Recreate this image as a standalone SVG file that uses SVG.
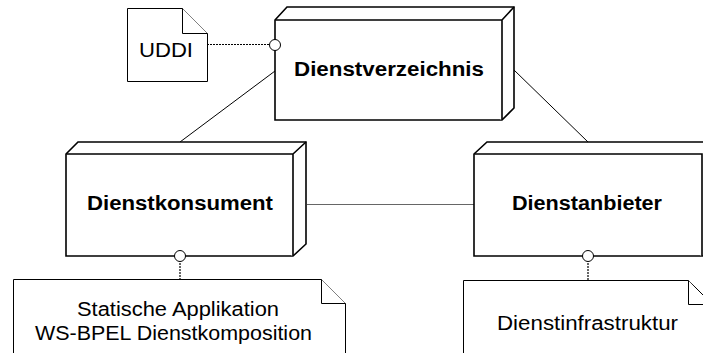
<svg xmlns="http://www.w3.org/2000/svg" width="703" height="353" viewBox="0 0 703 353">
<style>
.box{fill:#fff;stroke:#000;stroke-width:1.6;stroke-linejoin:miter}
.doc{fill:#fff;stroke:#000;stroke-width:1}
.lbl{font-family:"Liberation Sans",Arial,sans-serif;font-size:20px;font-weight:bold;text-anchor:middle;fill:#000}
.dtx{font-family:"Liberation Sans",Arial,sans-serif;font-size:20px;text-anchor:middle;fill:#000}
.ln{stroke:#000;stroke-width:1;fill:none}
.dash{stroke:#000;stroke-width:1.2;stroke-dasharray:2,1;fill:none}
.port{fill:#fff;stroke:#000;stroke-width:1}
</style>
<rect width="703" height="353" fill="#fff"/>
<g id="connectors">
<line class="ln" x1="275" y1="71" x2="180" y2="142"/>
<line class="ln" x1="514" y1="70" x2="588" y2="142"/>
<line x1="307" y1="204.5" x2="474" y2="204.5" stroke="#666" stroke-width="1.2"/>
<line class="dash" x1="207" y1="44.5" x2="270" y2="44.5"/>
<line class="dash" x1="180" y1="260" x2="180" y2="280"/>
<line class="dash" x1="588" y1="260" x2="588" y2="281"/>
</g>
<g id="uddi">
<path class="doc" d="M127.5,8.5 H182.5 L207.5,33.5 V81.5 H127.5 Z"/>
<path class="doc" d="M182.5,8.5 V33.5 H207.5"/>
<text class="dtx" x="166" y="57" textLength="54" lengthAdjust="spacingAndGlyphs">UDDI</text>
</g>
<g id="dienstverzeichnis">
<path class="box" d="M275,20 L287,7 H514 V108 L502,120 H275 Z"/>
<path class="box" d="M275,20 H502 V120 M502,20 L514,7"/>
<circle class="port" cx="275" cy="45" r="5.5"/>
<text class="lbl" x="389" y="76" textLength="190" lengthAdjust="spacingAndGlyphs">Dienstverzeichnis</text>
</g>
<g id="dienstkonsument">
<path class="box" d="M66,154 L78,142 H306 V244 L293,256 H66 Z"/>
<path class="box" d="M66,154 H293 V256 M293,154 L306,142"/>
<circle class="port" cx="180" cy="256" r="5.5"/>
<text class="lbl" x="180" y="210" textLength="186" lengthAdjust="spacingAndGlyphs">Dienstkonsument</text>
</g>
<g id="dienstanbieter">
<path class="box" d="M474,154 L487,142 H706 V256 H474 Z"/>
<path class="box" d="M474,154 H702 V256"/>
<circle class="port" cx="588" cy="256" r="5.5"/>
<text class="lbl" x="587" y="210" textLength="150" lengthAdjust="spacingAndGlyphs">Dienstanbieter</text>
</g>
<g id="statische">
<path class="doc" d="M13.5,360 V279.5 H321.5 L345.5,303.5 V360"/>
<path class="doc" d="M321.5,279.5 V303.5 H345.5"/>
<text class="dtx" x="178" y="316" textLength="202" lengthAdjust="spacingAndGlyphs">Statische Applikation</text>
<text class="dtx" x="173.5" y="340" textLength="277" lengthAdjust="spacingAndGlyphs">WS-BPEL Dienstkomposition</text>
</g>
<g id="dienstinfrastruktur">
<path class="doc" d="M463.5,360 V280.5 H688.5 L712,304"/>
<path class="doc" d="M688.5,280.5 V304.5 H710"/>
<text class="dtx" x="587.5" y="330" textLength="181" lengthAdjust="spacingAndGlyphs">Dienstinfrastruktur</text>
</g>
</svg>
